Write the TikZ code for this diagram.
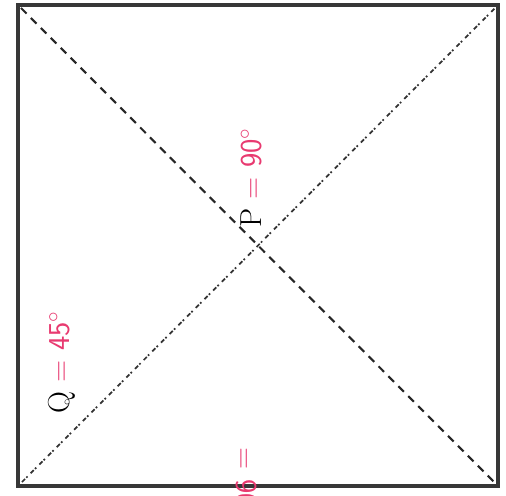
\documentclass[tikz,border=0pt]{standalone}
\usetikzlibrary{positioning}
\definecolor{inkpink}{RGB}{232,58,112}
\definecolor{framegray}{RGB}{55,55,55}

\begin{document}
\begin{tikzpicture}[
  x=0.2mm,y=-0.2mm,
  frame/.style={draw=framegray,line width=0.8mm,line join=miter},
  diag/.style={draw=black!85,line width=1.2pt,dash pattern=on 4.5pt off 3.5pt},
  diagb/.style={draw=black!80,line width=1pt,dash pattern=on 2.5pt off 1pt on 1pt off 2.5pt},
  angle/.style={rotate=90,font=\LARGE,inner sep=0pt},
  hand/.style={text=inkpink,font=\LARGE\sffamily}]
\useasboundingbox (0,0) rectangle (506,496);
\coordinate (tl) at (18,5);
\coordinate (tr) at (498,5);
\coordinate (br) at (498,486);
\coordinate (bl) at (18,486);
% square and its two diagonals
\draw[diag] ([shift={(3,3)}]tl) -- ([shift={(-3,-3)}]br);
\draw[diagb] ([shift={(4,-4)}]bl) -- ([shift={(-3,3)}]tr);
\draw[frame] (tl) rectangle (br);
% angle labels
\node[angle,anchor=west] (plabel) at (251,228) {P \textcolor{inkpink}{\sffamily = 90$^\circ$}};
\node[angle,anchor=west] (qlabel) at (62,414) {Q \textcolor{inkpink}{\sffamily = 45$^\circ$}};
\begin{scope}
\clip (0,0) rectangle (506,496);
\node[hand,rotate=-90,inner sep=0pt,anchor=west] (cutlabel) at (246,447) {= 90$^\circ$};
\end{scope}
\end{tikzpicture}
\end{document}
